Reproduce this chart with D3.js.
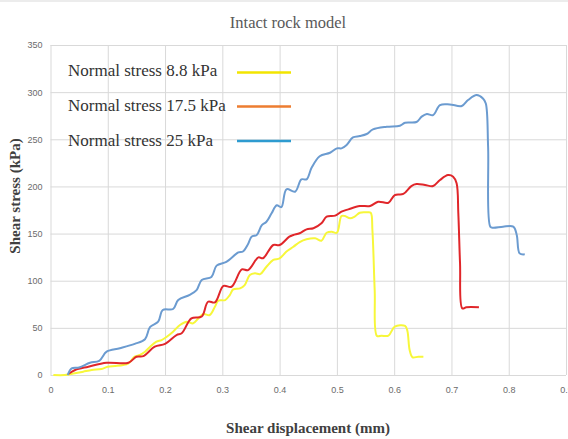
<!DOCTYPE html>
<html lang="en">
<head>
<meta charset="UTF-8">
<title>Intact rock model</title>
<script src="https://d3js.org/d3.v7.min.js"></script>
<style>
  body { margin: 0; background: #fff; }
  .tick text { font-family: "Liberation Sans", Arial, sans-serif; font-size: 9px; fill: #6b6b6b; }
  .grid line { stroke: #d9d9d9; stroke-width: 1; }
  .grid path { display: none; }
</style>
</head>
<body>
<script type="text/javascript">
var totalWidth = 568;
var totalHeight = 439;
var margin = { top: 45, left: 50.5, right: 2, bottom: 64 };
var width = totalWidth - margin.left - margin.right;
var height = totalHeight - margin.top - margin.bottom;

// tick values
var xTicks = [0, 0.1, 0.2, 0.3, 0.4, 0.5, 0.6, 0.7, 0.8, 0.9];
var yTicks = [0, 50, 100, 150, 200, 250, 300, 350];

// legend labels
var seriesNames = ["Normal stress 8.8 kPa", "Normal stress 17.5 kPa", "Normal stress 25 kPa"];
var legendColors = ["#f2e500", "#ed7d31", "#2e9bd0"];
var lineColors = ["#f7f73a", "#e0262a", "#6b9bd0"];

// shear displacement (mm) / shear stress (kPa)
var yellowX = [0.005, 0.025, 0.04, 0.057, 0.072, 0.089, 0.1, 0.113, 0.127, 0.136, 0.147, 0.156, 0.165, 0.174, 0.185, 0.194, 0.203, 0.214, 0.226, 0.238, 0.249, 0.258, 0.267, 0.278, 0.287, 0.293, 0.305, 0.313, 0.319, 0.331, 0.339, 0.348, 0.357, 0.366, 0.377, 0.389, 0.4, 0.412, 0.424, 0.435, 0.447, 0.462, 0.473, 0.482, 0.491, 0.5, 0.508, 0.514, 0.523, 0.531, 0.54, 0.552, 0.559, 0.562, 0.566, 0.57, 0.578, 0.59, 0.601, 0.619, 0.623, 0.627, 0.632, 0.642, 0.651];
var yellowY = [0, 0, 1.5, 3.5, 5.3, 6.4, 8.8, 9.5, 10.6, 12.4, 19.4, 21.2, 24.7, 30, 35.3, 37, 40.6, 46, 53, 56.5, 54.8, 60, 64.7, 63.6, 72.4, 78.8, 79.5, 84.8, 90.9, 91.9, 95.4, 106, 107.8, 107, 114.8, 122, 123.7, 131, 136, 141, 144, 145, 142.4, 150.9, 152, 150.9, 168.6, 168.6, 166.2, 168, 172.1, 172.5, 172.1, 153.8, 90, 41.4, 41.7, 41.7, 51.2, 52, 47, 26.5, 18.8, 19.4, 19.4];

var redX = [0.031, 0.043, 0.066, 0.098, 0.136, 0.15, 0.162, 0.182, 0.2, 0.22, 0.229, 0.246, 0.264, 0.275, 0.287, 0.302, 0.316, 0.334, 0.345, 0.363, 0.371, 0.389, 0.4, 0.417, 0.424, 0.435, 0.447, 0.459, 0.473, 0.482, 0.497, 0.508, 0.52, 0.54, 0.558, 0.572, 0.59, 0.601, 0.616, 0.63, 0.639, 0.654, 0.668, 0.68, 0.694, 0.703, 0.709, 0.712, 0.715, 0.719, 0.726, 0.748];
var redY = [1, 5.3, 8.8, 13, 13, 19.4, 20, 30, 33, 42.4, 44.2, 60, 62, 77.7, 77, 94.4, 93.6, 112, 111.3, 124.8, 123.8, 137.9, 137.9, 146.7, 148.5, 150.3, 154.5, 155.6, 160.9, 167.9, 169, 173.2, 175.7, 179.2, 179.2, 183.8, 182.7, 190.9, 192, 200.4, 202.5, 201.5, 200.4, 206.8, 212, 210.3, 203.3, 171.5, 118.5, 70.7, 71.8, 71.8];

var blueX = [0.03, 0.037, 0.05, 0.069, 0.085, 0.098, 0.121, 0.147, 0.165, 0.174, 0.188, 0.196, 0.214, 0.223, 0.243, 0.255, 0.264, 0.281, 0.29, 0.307, 0.328, 0.336, 0.345, 0.351, 0.36, 0.369, 0.377, 0.386, 0.395, 0.403, 0.412, 0.427, 0.438, 0.447, 0.456, 0.47, 0.488, 0.5, 0.508, 0.517, 0.528, 0.54, 0.552, 0.563, 0.587, 0.61, 0.619, 0.639, 0.648, 0.657, 0.668, 0.68, 0.697, 0.718, 0.729, 0.744, 0.755, 0.76, 0.764, 0.768, 0.773, 0.79, 0.808, 0.814, 0.819, 0.828];
var blueY = [0, 7.1, 8, 13, 15, 24.7, 28.3, 33, 37.9, 51, 56.5, 69, 70, 79.5, 85, 90, 100.7, 104, 116, 120, 130, 131, 139, 146.7, 148.5, 159, 162.5, 171.5, 180, 178, 197, 194.4, 207.5, 207.5, 220, 232, 235.7, 240.4, 240.4, 244, 252, 253.4, 255.6, 260.5, 263.3, 264.4, 267.5, 268.3, 274, 276.8, 275.7, 286.3, 287, 285.3, 291.6, 297, 293.3, 288, 242, 157, 156.2, 157.3, 157.3, 148.5, 129, 128];

var seriesX = [yellowX, redX, blueX];
var seriesY = [yellowY, redY, blueY];

var x = d3.scaleLinear().domain([0, 0.9]).range([0, width]);
var y = d3.scaleLinear().domain([0, 350]).range([height, 0]);

var svg = d3.select("body").append("svg")
    .attr("width", totalWidth)
    .attr("height", totalHeight);

// thin frame line at the top
svg.append("line")
    .attr("x1", 0).attr("x2", totalWidth)
    .attr("y1", 1).attr("y2", 1)
    .style("stroke", "#d9d9d9");

var chart = svg.append("g")
    .attr("transform", "translate(" + margin.left + "," + margin.top + ")");

// gridlines + tick labels
chart.append("g")
    .classed("grid", true)
    .attr("transform", "translate(0," + height + ")")
    .call(d3.axisBottom(x).tickValues(xTicks).tickSize(-height).tickPadding(12)
        .tickFormat(function (d) { return d === 0 ? "0" : d3.format(".1f")(d); }));

chart.append("g")
    .classed("grid", true)
    .call(d3.axisLeft(y).tickValues(yTicks).tickSize(-width).tickPadding(8));

var serif = "'Liberation Serif', 'Times New Roman', serif";

// title
svg.append("text")
    .attr("x", 288)
    .attr("y", 28)
    .style("text-anchor", "middle")
    .style("font-family", serif)
    .style("font-size", "16.5px")
    .style("fill", "#595959")
    .text("Intact rock model");

// axis titles
svg.append("text")
    .attr("transform", "translate(20,196) rotate(-90)")
    .style("text-anchor", "middle")
    .style("font-family", serif)
    .style("font-weight", "bold")
    .style("font-size", "15px")
    .style("fill", "#404040")
    .text("Shear stress (kPa)");

svg.append("text")
    .attr("x", 308)
    .attr("y", 433)
    .style("text-anchor", "middle")
    .style("font-family", serif)
    .style("font-weight", "bold")
    .style("font-size", "15px")
    .style("fill", "#404040")
    .text("Shear displacement (mm)");

// curves
var line = d3.line()
    .x(function (d) { return x(d[0]); })
    .y(function (d) { return y(d[1]); })
    .curve(d3.curveCatmullRom.alpha(0.5));

seriesX.forEach(function (xs, i) {
    var pts = xs.map(function (v, j) { return [v, seriesY[i][j]]; });
    chart.append("path")
        .datum(pts)
        .attr("d", line)
        .style("fill", "none")
        .style("stroke", lineColors[i])
        .style("stroke-width", 2)
        .style("stroke-linejoin", "round");
});

// legend
var legendTextY = [76, 111, 146];
var legendLineY = [72.5, 106.5, 141];
var legend = svg.append("g").classed("legend", true);
seriesNames.forEach(function (name, i) {
    legend.append("text")
        .attr("x", 68)
        .attr("y", legendTextY[i])
        .style("font-family", serif)
        .style("font-size", "17px")
        .style("fill", "#333")
        .text(name);
    legend.append("line")
        .attr("x1", 237).attr("x2", 291)
        .attr("y1", legendLineY[i]).attr("y2", legendLineY[i])
        .style("stroke", legendColors[i])
        .style("stroke-width", 2.5);
});
</script>
</body>
</html>
